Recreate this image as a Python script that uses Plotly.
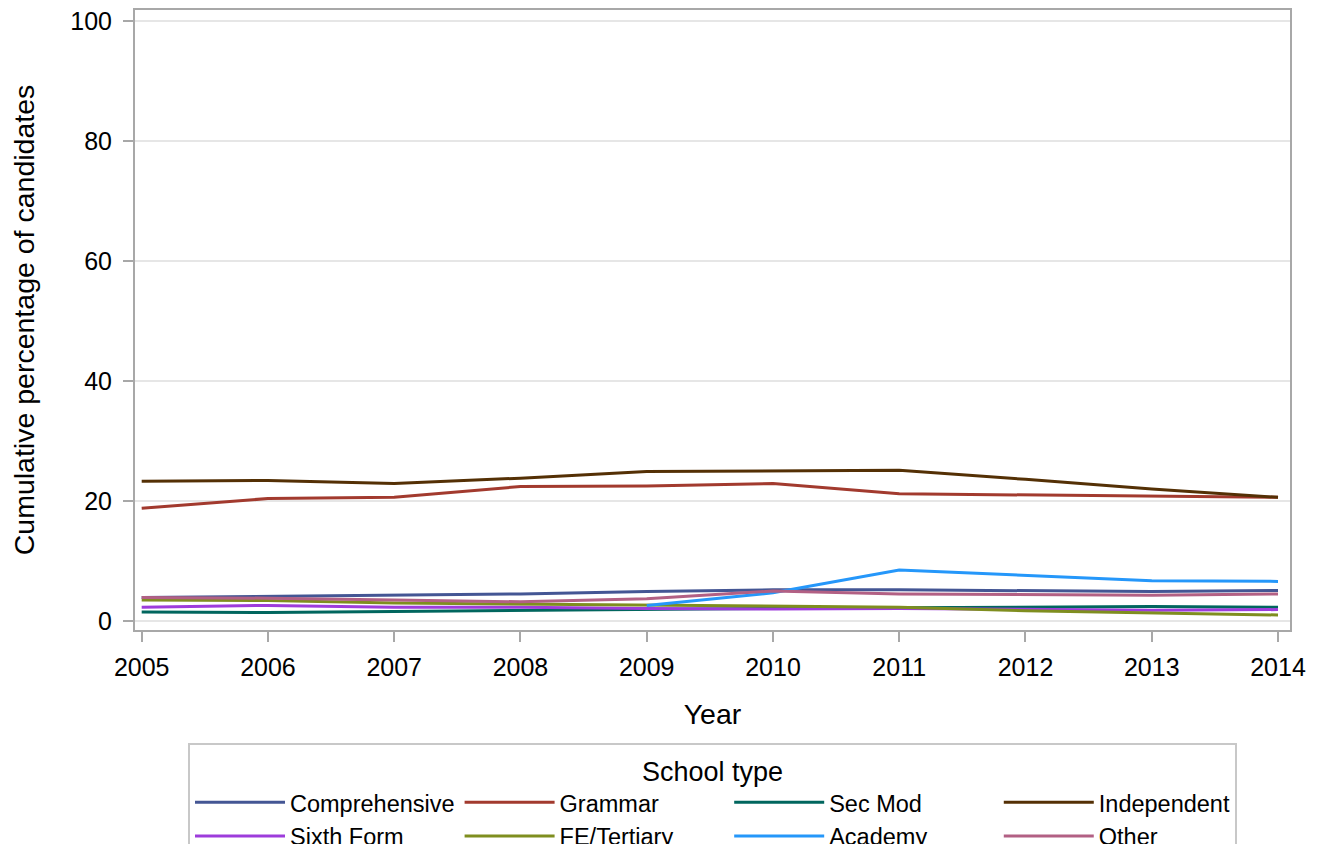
import plotly.graph_objects as go

years = [2005, 2006, 2007, 2008, 2009, 2010, 2011, 2012, 2013, 2014]
academy_years = [2009, 2010, 2011, 2012, 2013, 2014]

comprehensive = [3.9, 4.1, 4.2, 4.5, 4.9, 5.2, 5.2, 5.0, 4.9, 5.1]
grammar = [18.8, 20.4, 20.6, 22.4, 22.5, 22.9, 21.2, 21.0, 20.8, 20.6]
sec_mod = [1.5, 1.4, 1.6, 1.8, 2.0, 2.1, 2.2, 2.3, 2.4, 2.3]
independent = [23.3, 23.4, 22.9, 23.8, 24.9, 25.0, 25.1, 23.6, 22.0, 20.6]
sixth_form = [2.3, 2.6, 2.3, 2.3, 2.1, 2.0, 2.1, 1.9, 1.8, 1.9]
fe_tertiary = [3.5, 3.4, 3.0, 2.8, 2.7, 2.5, 2.3, 1.7, 1.3, 1.0]
academy = [2.6, 4.7, 8.5, 7.6, 6.7, 6.6]
other = [3.9, 3.8, 3.5, 3.2, 3.7, 5.0, 4.5, 4.4, 4.3, 4.5]

series = [
    ("Comprehensive", years, comprehensive, "#445694"),
    ("Grammar", years, grammar, "#A23A2E"),
    ("Sec Mod", years, sec_mod, "#01665E"),
    ("Independent", years, independent, "#543005"),
    ("Sixth Form", years, sixth_form, "#9D3CDB"),
    ("FE/Tertiary", years, fe_tertiary, "#7F8E1F"),
    ("Academy", academy_years, academy, "#2597FA"),
    ("Other", years, other, "#B26084"),
]

fig = go.Figure()
for name, xs, ys, color in series:
    fig.add_trace(go.Scatter(x=xs, y=ys, mode="lines", name=name,
                             line=dict(color=color, width=3)))

font_family = "Liberation Sans, Arial, sans-serif"
axis_common = dict(
    showline=True, linecolor="#A8A8A8", linewidth=2, mirror=True,
    ticks="outside", ticklen=10, tickwidth=2, tickcolor="#A8A8A8",
    tickfont=dict(size=25, color="black", family=font_family),
    title_font=dict(size=28.5, color="black", family=font_family),
    ticklabeloverflow="allow",
)

fig.update_layout(
    width=1320, height=844,
    margin=dict(l=127, r=38, t=2, b=222, autoexpand=False),
    plot_bgcolor="white", paper_bgcolor="white",
    font=dict(family=font_family, color="black"),
    xaxis=dict(range=[2004.947, 2014.095], tickvals=years,
               showgrid=False, zeroline=False, ticklabelstandoff=4,
               title=dict(text="Year", standoff=24), **axis_common),
    yaxis=dict(range=[-1.5, 101.8], tickvals=[0, 20, 40, 60, 80, 100],
               showgrid=True, gridcolor="#E6E6E6", gridwidth=2,
               zeroline=False, ticklabelstandoff=6,
               title=dict(text="Cumulative percentage of candidates", standoff=42),
               **axis_common),
    legend=dict(
        orientation="h", x=0.5, xanchor="center", y=-0.183, yanchor="top",
        title=dict(text="School type", side="top center",
                   font=dict(size=27, color="black", family=font_family)),
        font=dict(size=23.5, color="black", family=font_family),
        itemwidth=90, bordercolor="#C8C8C8", borderwidth=2, bgcolor="white",
        traceorder="normal",
    ),
)

fig.write_html("out.html")
